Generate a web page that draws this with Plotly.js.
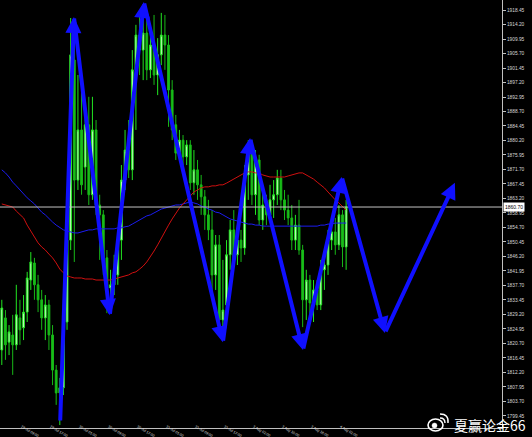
<!DOCTYPE html>
<html><head><meta charset="utf-8">
<script src="https://cdn.plot.ly/plotly-3.0.1.min.js"></script>
<style>html,body{margin:0;padding:0;background:#000;overflow:hidden}#chart{width:532px;height:437px;}</style>
</head><body><div id="chart"></div>
<script>
const openP = [1818.8,1828.2,1821.1,1823.2,1820.3,1828.2,1825.3,1829.9,1839.3,1844.3,
1837.9,1833.5,1828.2,1832.0,1823.2,1812.9,1806.2,1807.7,1827.0,1851.0,
1903.8,1868.6,1883.3,1872.4,1884.8,1864.3,1883.3,1861.3,1858.4,1845.8,
1837.0,1837.9,1840.8,1851.0,1868.6,1877.4,1871.6,1900.9,1911.1,1906.7,
1911.7,1900.9,1908.2,1899.4,1905.3,1911.1,1908.2,1895.0,1884.8,1876.5,
1880.3,1875.4,1878.9,1867.8,1871.6,1867.2,1863.7,1858.4,1854.0,1840.8,
1849.6,1827.6,1832.0,1846.7,1854.0,1846.7,1851.0,1848.7,1870.1,1877.4,
1864.3,1874.5,1856.9,1861.3,1858.4,1862.8,1864.3,1869.2,1862.8,1859.8,
1857.5,1851.0,1855.4,1848.1,1833.5,1839.3,1832.6,1836.4,1832.0,1842.3,
1843.7,1851.0,1853.4,1849.6,1858.4,1849.0];
const highP = [1833.5,1830.5,1826.1,1829.1,1837.9,1833.5,1834.9,1841.7,1847.5,1845.8,
1840.8,1836.4,1834.9,1833.5,1826.1,1814.4,1810.6,1833.5,1852.5,1916.1,
1908.2,1899.4,1900.0,1889.1,1893.0,1893.0,1886.2,1864.3,1859.8,1848.1,
1842.3,1846.7,1853.4,1873.0,1883.3,1886.2,1906.7,1914.1,1918.5,1919.9,
1917.0,1914.1,1917.0,1910.2,1917.6,1917.0,1911.1,1897.9,1887.7,1883.3,
1881.8,1880.3,1880.3,1877.4,1874.5,1870.1,1865.7,1862.8,1859.8,1852.5,
1852.5,1845.2,1851.0,1856.9,1859.8,1855.4,1854.0,1873.0,1880.3,1880.3,
1877.4,1876.0,1865.7,1864.3,1867.2,1868.6,1871.6,1871.6,1865.7,1864.3,
1861.3,1858.4,1862.8,1849.6,1842.3,1840.8,1839.3,1839.3,1845.2,1846.7,
1854.0,1856.9,1857.5,1861.3,1859.8,1862.8];
const lowP = [1814.4,1815.9,1817.3,1811.5,1818.8,1820.3,1821.7,1827.0,1836.4,1833.5,
1829.9,1824.7,1821.7,1818.8,1808.5,1802.7,1796.8,1805.6,1824.7,1848.1,
1844.6,1865.7,1864.3,1865.7,1861.3,1862.8,1858.4,1845.2,1840.8,1829.6,
1833.5,1834.9,1837.9,1845.2,1865.7,1869.2,1868.6,1883.3,1899.4,1897.9,
1897.9,1898.5,1896.5,1893.5,1902.3,1900.9,1884.2,1880.3,1874.5,1874.5,
1873.0,1873.0,1865.7,1864.3,1862.8,1858.4,1854.0,1851.0,1833.5,1836.4,
1823.2,1821.7,1829.1,1842.3,1843.7,1843.7,1844.6,1846.7,1862.8,1861.3,
1858.4,1855.4,1854.0,1855.4,1856.3,1857.5,1861.3,1859.8,1856.9,1855.4,
1848.1,1848.1,1846.7,1825.5,1827.6,1829.1,1827.0,1830.5,1830.5,1836.4,
1840.8,1848.1,1846.7,1848.1,1843.1,1842.3];
const closeP = [1831.1,1820.3,1824.1,1820.3,1829.1,1824.7,1829.9,1839.9,1844.6,1837.9,
1833.5,1828.2,1832.0,1823.2,1812.9,1806.2,1807.7,1827.0,1851.0,1905.3,
1868.6,1883.3,1867.2,1884.8,1864.3,1883.3,1861.3,1858.4,1845.8,1837.0,
1837.9,1840.8,1851.0,1868.6,1877.4,1871.6,1900.9,1911.1,1906.7,1911.7,
1900.9,1908.2,1899.4,1905.3,1911.1,1908.2,1895.0,1883.3,1876.5,1880.3,
1875.4,1878.9,1867.8,1871.6,1867.2,1863.7,1858.4,1854.0,1840.8,1849.6,
1827.6,1830.5,1846.7,1854.0,1845.2,1851.0,1848.7,1870.1,1877.4,1864.3,
1874.5,1856.9,1861.3,1858.4,1862.8,1864.3,1869.2,1862.8,1859.8,1857.5,
1851.0,1855.4,1848.1,1833.5,1839.3,1832.6,1836.4,1832.0,1842.3,1843.7,
1851.0,1853.4,1849.6,1858.4,1849.0,1860.7];
const maRed = [1861.6,1861.3,1861.0,1860.7,1859.5,1858.4,1857.5,1855.4,1853.7,1851.6,
1850.2,1849.0,1848.1,1846.9,1845.8,1844.3,1842.5,1841.4,1840.5,1840.2,
1839.9,1839.9,1839.9,1839.6,1839.6,1839.6,1839.3,1839.3,1839.3,1839.3,
1839.3,1839.6,1839.9,1840.2,1840.5,1840.8,1841.4,1841.7,1842.5,1843.4,
1844.6,1846.1,1847.8,1849.6,1851.6,1853.7,1855.4,1857.2,1859.0,1860.4,
1861.6,1862.8,1863.9,1865.1,1865.7,1866.3,1866.6,1866.6,1866.9,1866.9,
1867.2,1867.2,1867.7,1868.3,1868.9,1869.5,1870.1,1870.7,1871.0,1871.0,
1870.7,1870.7,1870.1,1869.8,1869.5,1869.5,1869.5,1869.5,1869.5,1869.8,
1870.1,1870.4,1870.7,1870.7,1870.1,1869.5,1868.9,1868.0,1867.2,1866.3,
1865.1,1863.9,1862.8,1861.9,1860.7,1859.8];
const maBlue = [1871.6,1870.7,1869.5,1868.0,1866.9,1865.7,1864.5,1863.4,1862.5,1861.6,
1860.4,1859.2,1858.4,1857.2,1856.3,1855.4,1854.6,1854.0,1853.7,1853.4,
1853.1,1853.1,1853.4,1853.7,1854.0,1854.0,1854.3,1854.3,1854.3,1854.3,
1854.3,1854.3,1854.6,1854.6,1854.9,1855.1,1855.7,1856.3,1856.9,1857.5,
1858.1,1858.4,1859.0,1859.5,1860.1,1860.4,1860.7,1861.0,1861.3,1861.3,
1861.6,1861.9,1862.2,1861.9,1861.6,1861.0,1860.7,1860.1,1859.8,1859.2,
1859.0,1858.4,1857.8,1857.2,1856.9,1856.6,1856.3,1856.0,1855.7,1855.7,
1855.4,1855.4,1855.1,1855.1,1855.1,1854.9,1854.9,1854.9,1854.9,1854.9,
1854.9,1854.9,1854.9,1854.9,1854.9,1854.9,1855.1,1855.1,1855.4,1855.4,
1855.7,1855.7,1856.0,1856.0,1856.0,1856.0];
const timeTickBars = [-0.45,5.5,13.5,21.5,29.5,37.5,45.5,53.5,61.5,69.5,77.5,85.5,93.5];
const timeTickLabels = ["29 Jul 2020","29 Jul 09:00","29 Jul 17:00","30 Jul 01:00","30 Jul 09:00","30 Jul 17:00","31 Jul 01:00","31 Jul 09:00","31 Jul 17:00","3 Aug 02:00","3 Aug 10:00","3 Aug 18:00","4 Aug 02:00"];
const priceTicks = [1918.45,1914.20,1909.95,1905.70,1901.45,1897.20,1892.95,1888.70,1884.45,1880.20,1875.95,1871.70,1867.45,1863.20,1858.95,1854.70,1850.45,1846.20,1841.95,1837.70,1833.45,1829.20,1824.95,1820.70,1816.45,1812.20,1807.95,1803.70,1799.45];
const arrowBars = [16.1,19.9,29.8,39.2,61.0,68.5,83.1,93.8,105.7,125.0];
const arrowPrices = [1797.7,1916.4,1829.0,1920.8,1821.1,1880.9,1818.8,1869.5,1823.8,1867.8];
const watermark = "夏赢论金66";

const bars = closeP.map((_, i) => i);
const lastPrice = closeP[closeP.length - 1];

const traces = [
  {type:'scatter', mode:'lines', x:bars, y:maRed, xaxis:'x2', yaxis:'y', line:{color:'#d01010', width:1}, hoverinfo:'skip'},
  {type:'scatter', mode:'lines', x:bars, y:maBlue, line:{color:'#1c1cf0', width:1}, hoverinfo:'skip'},
  {type:'candlestick', x:bars, open:openP, high:highP, low:lowP, close:closeP,
   increasing:{line:{color:'#22e622', width:1}, fillcolor:'#e4ffdc'},
   decreasing:{line:{color:'#18b818', width:1}, fillcolor:'#18c018'},
   whiskerwidth:0, hoverinfo:'skip'}
];

const annotations = [];
for (let k = 1; k < arrowBars.length; k++) {
  annotations.push({x:arrowBars[k], y:arrowPrices[k], ax:arrowBars[k-1], ay:arrowPrices[k-1],
    xref:'x', yref:'y', axref:'x', ayref:'y', text:'', showarrow:true,
    arrowhead:2, arrowsize:0.8, arrowwidth:4, arrowcolor:'#1010ff', standoff:0});
}
annotations.push({xref:'paper', yref:'y', x:1, y:lastPrice, xanchor:'left', yanchor:'middle',
  text:lastPrice.toFixed(2), showarrow:false, bgcolor:'#ffffff', borderpad:1, xshift:1,
  font:{family:'Liberation Sans, Arial', size:5, color:'#000000'}});
annotations.push({xref:'paper', yref:'paper', x:452/502, y:(428-425)/428, xanchor:'left', yanchor:'middle',
  text:watermark, showarrow:false,
  font:{family:'Noto Sans CJK SC', size:14, color:'#ffffff'}});

const px = v => v/502, py = v => (428 - v)/428;
const shapes = [
  {type:'line', xref:'paper', yref:'y', x0:0, x1:1, y0:lastPrice, y1:lastPrice, line:{color:'#c4c4c4', width:1}},
  {type:'circle', xref:'paper', yref:'paper', x0:px(428), x1:px(443), y0:py(431), y1:py(419), line:{color:'#ffffff', width:1.6}},
  {type:'circle', xref:'paper', yref:'paper', x0:px(432), x1:px(437), y0:py(428), y1:py(423), fillcolor:'#ffffff', line:{color:'#ffffff', width:0.5}},
  {type:'path', xref:'paper', yref:'paper', path:`M ${px(440)} ${py(418)} Q ${px(445)} ${py(418)} ${px(445)} ${py(423)}`, line:{color:'#ffffff', width:1.4}},
  {type:'path', xref:'paper', yref:'paper', path:`M ${px(440)} ${py(414)} Q ${px(449)} ${py(414)} ${px(448)} ${py(423)}`, line:{color:'#ffffff', width:1.4}}
];

const xRange = [-0.5, 138];
const layout = {
  width:532, height:437,
  margin:{l:0, r:30, t:0, b:9, pad:0},
  paper_bgcolor:'#000000', plot_bgcolor:'#000000',
  showlegend:false,
  xaxis:{range:xRange, rangeslider:{visible:false}, showgrid:false, zeroline:false,
    showline:true, linecolor:'#c0c0c0', linewidth:1, showticklabels:false, ticks:'', fixedrange:true},
  xaxis2:{range:xRange, overlaying:'x', anchor:'free', position:5/428, side:'bottom',
    showgrid:false, zeroline:false, showline:false,
    tickmode:'array', tickvals:timeTickBars, ticktext:timeTickLabels,
    ticks:'', ticklabelposition:'outside right',
    tickfont:{family:'Liberation Sans, Arial', size:3.6, color:'#d8d8d8'}, fixedrange:true},
  yaxis:{range:[1795.93,1921.38], side:'right', showgrid:false, zeroline:false,
    showline:true, linecolor:'#c0c0c0', linewidth:1,
    tickmode:'array', tickvals:priceTicks, ticktext:priceTicks.map(v => v.toFixed(2)),
    ticks:'outside', ticklen:3, tickcolor:'#c0c0c0',
    tickfont:{family:'Liberation Sans, Arial', size:4.8, color:'#d8d8d8'}, fixedrange:true},
  annotations:annotations,
  shapes:shapes
};

Plotly.newPlot('chart', traces, layout, {staticPlot:true, displayModeBar:false});
</script>
</body></html>
